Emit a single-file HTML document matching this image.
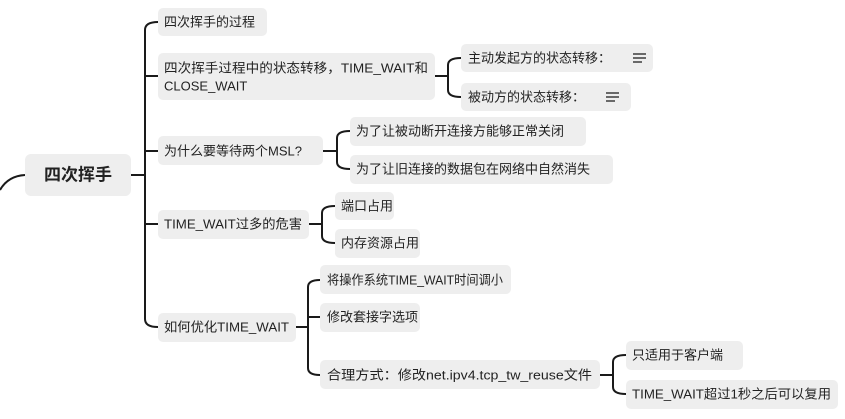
<!DOCTYPE html>
<html><head><meta charset="utf-8"><style>
html,body{margin:0;padding:0;background:#fff;}
svg{display:block;}
text{font-family:"Liberation Sans","Noto Sans CJK SC",sans-serif;font-size:13px;fill:#222;dominant-baseline:central;}
rect{fill:#eeeeee;}
path{fill:none;stroke:#1a1a1a;stroke-width:2;}
</style></head><body>
<svg width="845" height="419" viewBox="0 0 845 419">
<path d="M0 190 Q8 176 25 175"/>
<rect x="25" y="154" width="106" height="42" rx="6"/>
<text x="78" y="175" text-anchor="middle" style="font-size:17px;font-weight:bold">四次挥手</text>
<path d="M131 175 L145 175"/>
<path d="M158 22 Q145 22 145 30 L145 319 Q145 327 158 327"/>
<path d="M145 76 L158 76"/>
<path d="M145 151 L158 151"/>
<path d="M145 224 L158 224"/>
<rect x="158" y="8" width="109" height="28" rx="5"/><text x="164" y="22">四次挥手的过程</text>
<rect x="158" y="53" width="277" height="47" rx="5"/><text x="164" y="68" textLength="264" lengthAdjust="spacingAndGlyphs">四次挥手过程中的状态转移，TIME_WAIT和</text><text x="164" y="86">CLOSE_WAIT</text>
<rect x="158" y="136" width="165" height="29" rx="5"/><text x="164" y="151">为什么要等待两个MSL?</text>
<rect x="158" y="210" width="151" height="29" rx="5"/><text x="164" y="224" textLength="138" lengthAdjust="spacingAndGlyphs">TIME_WAIT过多的危害</text>
<rect x="158" y="313" width="138" height="29" rx="5"/><text x="164" y="327" textLength="125" lengthAdjust="spacingAndGlyphs">如何优化TIME_WAIT</text>
<path d="M435 76 L448 76 M461 58 Q448 58 448 65 L448 90 Q448 97 461 97"/>
<rect x="461" y="44" width="192" height="28" rx="5"/><text x="468" y="58">主动发起方的状态转移：</text>
<path d="M633 54 H646 M633 58 H646 M633 62 H642" style="stroke-width:1.2"/>
<rect x="461" y="83" width="170" height="28" rx="5"/><text x="468" y="97">被动方的状态转移：</text>
<path d="M606 93 H619 M606 97 H619 M606 101 H615" style="stroke-width:1.2"/>
<path d="M323 151 L337 151 M350 131 Q337 131 337 138 L337 162 Q337 169 350 169"/>
<rect x="350" y="117" width="236" height="29" rx="5"/><text x="356" y="131">为了让被动断开连接方能够正常关闭</text>
<rect x="350" y="155" width="263" height="29" rx="5"/><text x="356" y="169">为了让旧连接的数据包在网络中自然消失</text>
<path d="M309 224 L322 224 M335 206 Q322 206 322 213 L322 236 Q322 243 335 243"/>
<rect x="335" y="192" width="59" height="28" rx="5"/><text x="341" y="206">端口占用</text>
<rect x="335" y="229" width="85" height="29" rx="5"/><text x="341" y="243">内存资源占用</text>
<path d="M296 327 L308 327 M320 280 Q308 280 308 287 L308 368 Q308 375 320 375 M308 317 L320 317"/>
<rect x="320" y="265" width="191" height="29" rx="5"/><text x="327" y="280" textLength="176" lengthAdjust="spacingAndGlyphs">将操作系统TIME_WAIT时间调小</text>
<rect x="320" y="303" width="100" height="29" rx="5"/><text x="327" y="317">修改套接字选项</text>
<rect x="320" y="360" width="280" height="29" rx="5"/><text x="327" y="375" textLength="265" lengthAdjust="spacingAndGlyphs">合理方式：修改net.ipv4.tcp_tw_reuse文件</text>
<path d="M600 375 L613 375 M626 355 Q613 355 613 362 L613 387 Q613 394 626 394"/>
<rect x="626" y="341" width="117" height="29" rx="5"/><text x="632" y="355">只适用于客户端</text>
<rect x="626" y="380" width="212" height="29" rx="5"/><text x="632" y="394" textLength="199" lengthAdjust="spacingAndGlyphs">TIME_WAIT超过1秒之后可以复用</text>
</svg>
</body></html>
